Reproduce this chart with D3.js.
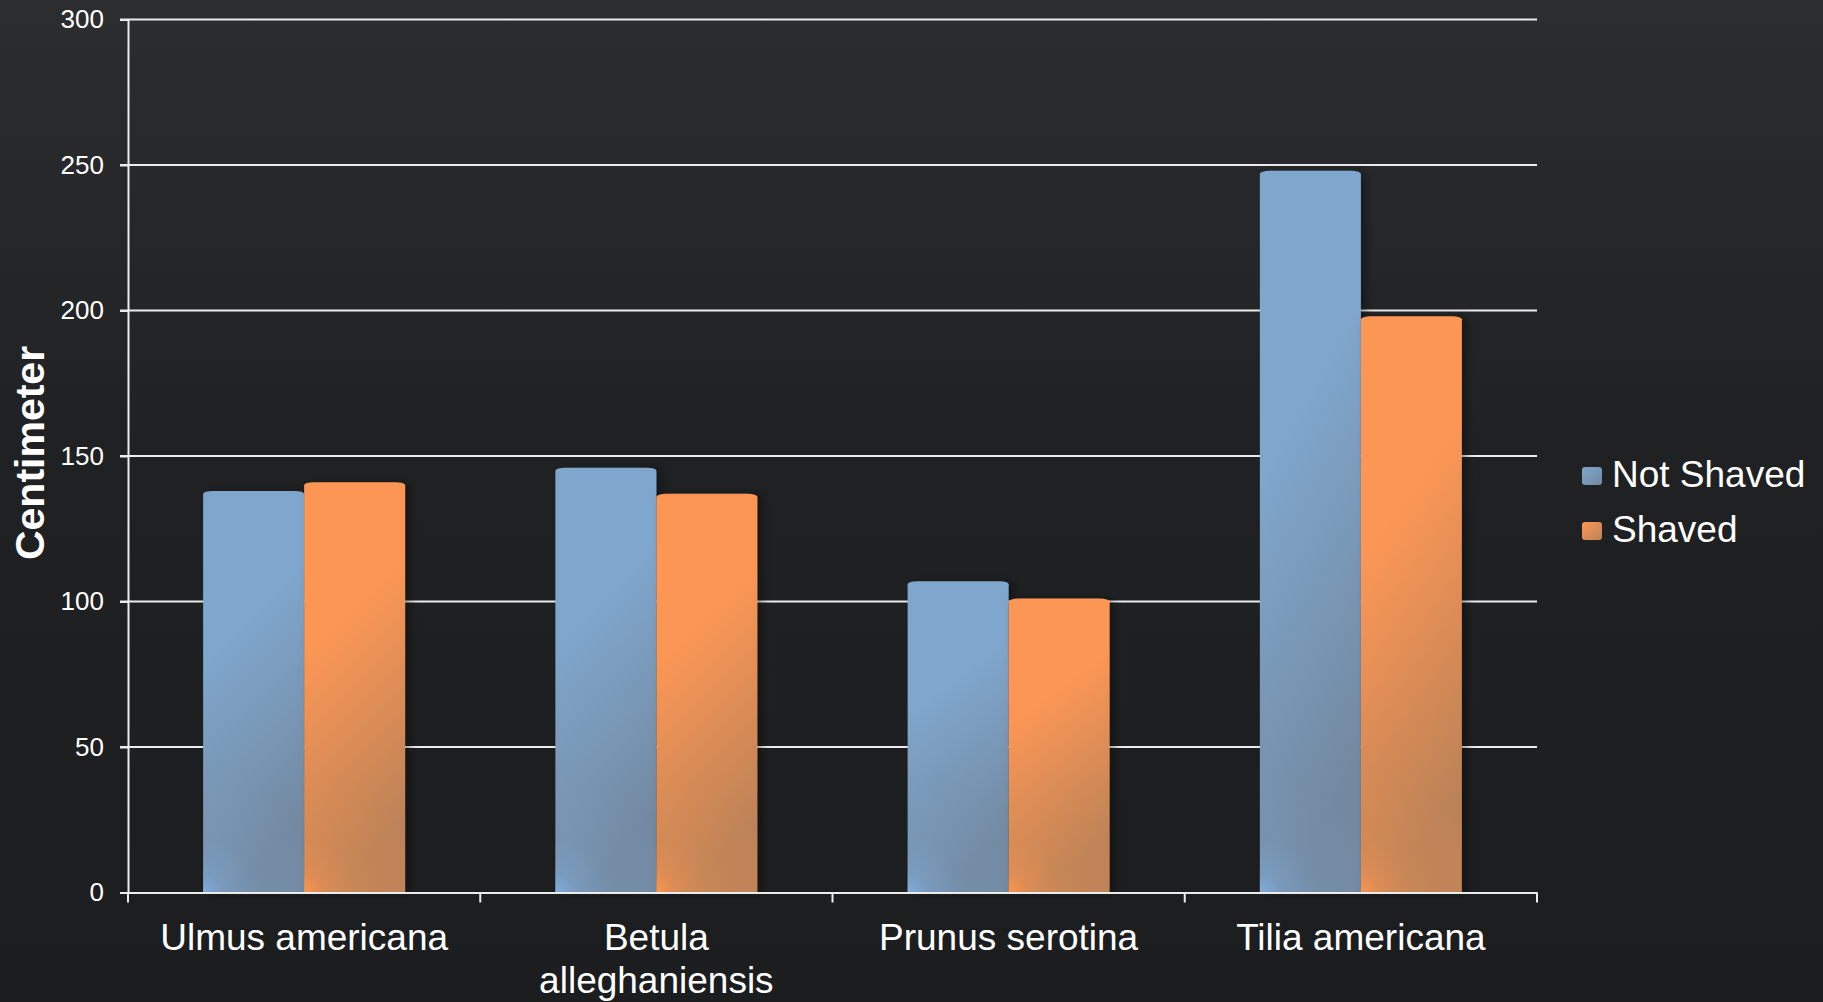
<!DOCTYPE html>
<html>
<head>
<meta charset="utf-8">
<script src="https://cdn.jsdelivr.net/npm/d3@7"></script>
<style>
html,body{margin:0;padding:0;background:#1e1f21;}
svg{display:block;}
text{font-family:"Liberation Sans",Arial,Helvetica,sans-serif;fill:#ffffff;}
</style>
</head>
<body>
<svg id="chart" width="1823" height="1002"></svg>
<script>
const categories = ["Ulmus americana", "Betula\nalleghaniensis", "Prunus serotina", "Tilia americana"];
const seriesNames = ["Not Shaved", "Shaved"];
const notShaved = [138, 146, 107, 248];
const shaved = [141, 137, 101, 198];
const yTicks = [0, 50, 100, 150, 200, 250, 300];
const yTitle = "Centimeter";

const W = 1823, H = 1002;
const M = {left: 128, right: 1537, top: 19.5, bottom: 892.5};
const svg = d3.select("#chart");
const defs = svg.append("defs");

// background gradient
const bg = defs.append("linearGradient").attr("id","bg").attr("x1",0).attr("y1",0).attr("x2",0).attr("y2",1);
bg.append("stop").attr("offset","0%").attr("stop-color","#2c2d2f");
bg.append("stop").attr("offset","45%").attr("stop-color","#202123");
bg.append("stop").attr("offset","100%").attr("stop-color","#1c1d1f");
svg.append("rect").attr("width",W).attr("height",H).attr("fill","url(#bg)");

const palette = {
  "Not Shaved": {top:"#7fa6cc", bottom:"#7389a1", corner:"#80aede"},
  "Shaved": {top:"#fb9655", bottom:"#bd8358", corner:"#fd9550"}
};
seriesNames.forEach((s,i)=>{
  const g = defs.append("linearGradient").attr("id","lin"+i).attr("x1",0).attr("y1",0).attr("x2",0.25).attr("y2",1);
  g.append("stop").attr("offset","0%").attr("stop-color",palette[s].top);
  g.append("stop").attr("offset","40%").attr("stop-color",palette[s].top);
  g.append("stop").attr("offset","100%").attr("stop-color",palette[s].bottom);
});
const sh = defs.append("filter").attr("id","shadow").attr("x","-20%").attr("y","-5%").attr("width","140%").attr("height","110%");
sh.append("feDropShadow").attr("dx",5).attr("dy",0).attr("stdDeviation",4).attr("flood-color","#000").attr("flood-opacity",0.35);

const x = d3.scaleBand().domain(categories).range([M.left, M.right]).paddingInner(0).paddingOuter(0);
const xs = d3.scaleBand().domain(seriesNames).range([0, x.bandwidth()]).paddingInner(0).paddingOuter(0.744);
const y = d3.scaleLinear().domain([0, 300]).range([M.bottom, M.top]);

// gridlines
svg.append("g").selectAll("line").data(yTicks.filter(d=>d>0)).join("line")
  .attr("x1", M.left-8).attr("x2", M.right)
  .attr("y1", d=>y(d)).attr("y2", d=>y(d))
  .attr("stroke","#ececec").attr("stroke-width",2);

// bars
const data = [];
categories.forEach((c,i)=>{
  data.push({cat:c, s:"Not Shaved", si:0, v:notShaved[i]});
  data.push({cat:c, s:"Shaved", si:1, v:shaved[i]});
});
const barG = svg.append("g");
function barPath(x0, w, yt, yb){
  const rx = 10, ry = 3;
  return `M${x0},${yb} L${x0},${yt+ry} A${rx},${ry} 0 0 1 ${x0+rx},${yt} L${x0+w-rx},${yt} A${rx},${ry} 0 0 1 ${x0+w},${yt+ry} L${x0+w},${yb} Z`;
}
data.forEach((d,k)=>{
  const x0 = x(d.cat) + xs(d.s), w = xs.bandwidth();
  const yt = y(d.v), yb = y(0);
  const rg = defs.append("radialGradient").attr("id","rad"+k).attr("gradientUnits","userSpaceOnUse")
    .attr("cx", x0).attr("cy", yb).attr("r", 120);
  rg.append("stop").attr("offset","0%").attr("stop-color",palette[d.s].corner).attr("stop-opacity",0.95);
  rg.append("stop").attr("offset","15%").attr("stop-color",palette[d.s].corner).attr("stop-opacity",0.45);
  rg.append("stop").attr("offset","45%").attr("stop-color",palette[d.s].corner).attr("stop-opacity",0.12);
  rg.append("stop").attr("offset","100%").attr("stop-color",palette[d.s].corner).attr("stop-opacity",0);
  const g = barG.append("g");
  g.append("path").attr("d", barPath(x0,w,yt,yb)).attr("fill","url(#lin"+d.si+")").attr("filter","url(#shadow)");
  g.append("path").attr("d", barPath(x0,w,yt,yb)).attr("fill","url(#rad"+k+")");
});

// axes
const yAxis = d3.axisLeft(y).tickValues(yTicks).tickSize(8).tickPadding(16);
const yg = svg.append("g").attr("transform",`translate(${M.left},0)`).call(yAxis);
yg.select(".domain").attr("stroke","#ececec").attr("stroke-width",2);
yg.selectAll(".tick line").attr("stroke","#ececec").attr("stroke-width",2);
yg.selectAll(".tick text").attr("font-size",26).attr("fill","#fff").attr("font-family","Liberation Sans, Arial, sans-serif");

const xAxis = d3.axisBottom(x).tickSizeInner(0).tickSizeOuter(0).tickFormat("");
const xg = svg.append("g").attr("transform",`translate(0,${M.bottom})`).call(xAxis);
xg.select(".domain").attr("stroke","#ececec").attr("stroke-width",2);
xg.selectAll(".tick").remove();
// category boundary ticks
const bounds = categories.map(c=>x(c)).concat([M.right]);
xg.selectAll("line.bt").data(bounds).join("line").attr("class","bt")
  .attr("x1",d=>d).attr("x2",d=>d).attr("y1",0).attr("y2",10)
  .attr("stroke","#ececec").attr("stroke-width",2);

// category labels
const lbl = svg.append("g");
categories.forEach(c=>{
  const t = lbl.append("text").attr("x", x(c)+x.bandwidth()/2).attr("y", 950)
    .attr("text-anchor","middle").attr("font-size",37);
  c.split("\n").forEach((line,j)=>{
    t.append("tspan").attr("x", x(c)+x.bandwidth()/2).attr("dy", j===0?0:43).text(line);
  });
});

// y title
svg.append("text").attr("transform","translate(44,453) rotate(-90)")
  .attr("text-anchor","middle").attr("font-size",41).attr("font-weight","bold").text(yTitle);

// legend
const lg = svg.append("g");
seriesNames.forEach((s,i)=>{
  const yy = 467 + i*55;
  const sg = defs.append("linearGradient").attr("id","leg"+i).attr("x1",0).attr("y1",0).attr("x2",1).attr("y2",1);
  sg.append("stop").attr("offset","0%").attr("stop-color",palette[s].top);
  sg.append("stop").attr("offset","100%").attr("stop-color",palette[s].bottom);
  lg.append("rect").attr("x",1582).attr("y",yy).attr("width",20).attr("height",18).attr("rx",3).attr("fill","url(#leg"+i+")");
  lg.append("text").attr("x",1612).attr("y",yy+20).attr("font-size",37).text(s);
});
</script>
</body>
</html>
